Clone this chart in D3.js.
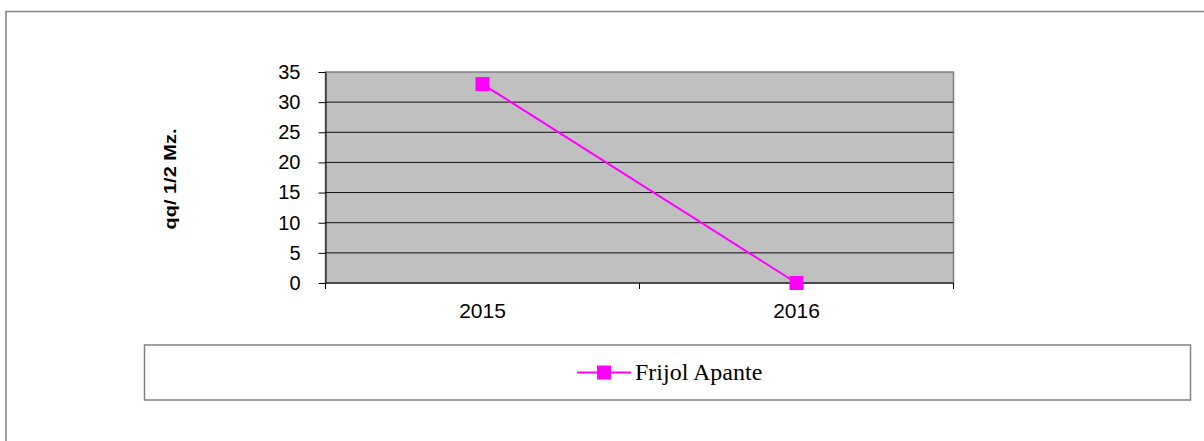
<!DOCTYPE html>
<html>
<head>
<meta charset="utf-8">
<script src="https://cdn.jsdelivr.net/npm/d3@7"></script>
<style>
  body { margin: 0; background: #fff; }
  svg { display: block; }
  .tick text { font-family: Arial, "Liberation Sans", sans-serif; fill: #000; }
</style>
</head>
<body>
<svg id="chart"></svg>
<script>
// chart data
const years = ['2015', '2016']
const frijolApante = [33, 0]
const yTicks = [0, 5, 10, 15, 20, 25, 30, 35]
const seriesName = 'Frijol Apante'
const yTitle = 'qq/ 1/2 Mz.'

const width = 1204
const height = 441
const plot = { left: 325.5, top: 72, right: 953.5, bottom: 283 }
const magenta = '#ff00ff'

const svg = d3.select('#chart')
    .attr('width', width)
    .attr('height', height)

// outer frame (runs off right and bottom edges)
svg.append('rect')
    .attr('x', 6).attr('y', 11.5)
    .attr('width', 1220).attr('height', 460)
    .attr('fill', 'none')
    .attr('stroke', '#808080')
    .attr('stroke-width', 1.5)

const xScale = d3.scaleBand().domain(years).range([plot.left, plot.right]).padding(0)
const yScale = d3.scaleLinear().domain([0, 35]).range([plot.bottom, plot.top])

// plot background
svg.append('rect')
    .attr('x', plot.left).attr('y', plot.top)
    .attr('width', plot.right - plot.left)
    .attr('height', plot.bottom - plot.top)
    .attr('fill', '#c0c0c0')
    .attr('stroke', '#808080')
    .attr('stroke-width', 1.5)

// horizontal gridlines
svg.append('g')
    .selectAll('line')
    .data(yTicks.filter(d => d > 0 && d < 35))
    .join('line')
    .attr('x1', plot.left).attr('x2', plot.right)
    .attr('y1', d => yScale(d)).attr('y2', d => yScale(d))
    .attr('stroke', '#111')
    .attr('stroke-width', 1)

// y axis
const yAxis = d3.axisLeft(yScale)
    .tickValues(yTicks)
    .tickSize(7)
    .tickPadding(18)
    .tickSizeOuter(0)
const gy = svg.append('g')
    .attr('transform', `translate(${plot.left},0)`)
    .call(yAxis)
gy.selectAll('.tick text').attr('font-size', 20)
gy.select('.domain').attr('stroke', '#000')

// x axis: ticks at category boundaries
const gx = svg.append('g')
    .attr('transform', `translate(0,${plot.bottom})`)
gx.append('line')
    .attr('x1', plot.left).attr('x2', plot.right)
    .attr('stroke', '#000')
gx.selectAll('.bound')
    .data([...years.map(d => xScale(d)), plot.right])
    .join('line')
    .attr('class', 'bound')
    .attr('x1', d => d).attr('x2', d => d)
    .attr('y1', 0).attr('y2', 6)
    .attr('stroke', '#000')
gx.selectAll('text')
    .data(years)
    .join('text')
    .attr('x', d => xScale(d) + xScale.bandwidth() / 2)
    .attr('y', 35)
    .attr('text-anchor', 'middle')
    .attr('font-family', 'Arial, "Liberation Sans", sans-serif')
    .attr('font-size', 21)
    .text(d => d)

// y axis title (slightly condensed, like the original)
svg.append('text')
    .attr('transform', 'translate(176,179) rotate(-90) scale(1,0.82)')
    .attr('text-anchor', 'middle')
    .attr('font-family', 'Arial, "Liberation Sans", sans-serif')
    .attr('font-weight', 'bold')
    .attr('font-size', 20)
    .text(yTitle)

// series line
const pts = years.map((y, i) => ({ x: y, y: frijolApante[i] }))
const line = d3.line()
    .x(d => xScale(d.x) + xScale.bandwidth() / 2)
    .y(d => yScale(d.y))
svg.append('path')
    .datum(pts)
    .attr('d', line)
    .attr('fill', 'none')
    .attr('stroke', magenta)
    .attr('stroke-width', 2)

const mk = 14
svg.append('g')
    .selectAll('rect')
    .data(pts)
    .join('rect')
    .attr('x', d => xScale(d.x) + xScale.bandwidth() / 2 - mk / 2)
    .attr('y', d => yScale(d.y) - mk / 2)
    .attr('width', mk).attr('height', mk)
    .attr('fill', magenta)

// legend
const legend = svg.append('g')
legend.append('rect')
    .attr('x', 144.5).attr('y', 345)
    .attr('width', 1046).attr('height', 55)
    .attr('fill', '#fff')
    .attr('stroke', '#808080')
    .attr('stroke-width', 1.5)
legend.append('line')
    .attr('x1', 577).attr('x2', 631)
    .attr('y1', 372.5).attr('y2', 372.5)
    .attr('stroke', magenta)
    .attr('stroke-width', 2)
legend.append('rect')
    .attr('x', 604 - mk / 2).attr('y', 372.5 - mk / 2)
    .attr('width', mk).attr('height', mk)
    .attr('fill', magenta)
legend.append('text')
    .attr('x', 635).attr('y', 380)
    .attr('font-family', '"Times New Roman", "Liberation Serif", serif')
    .attr('font-size', 24)
    .text(seriesName)
</script>
</body>
</html>
